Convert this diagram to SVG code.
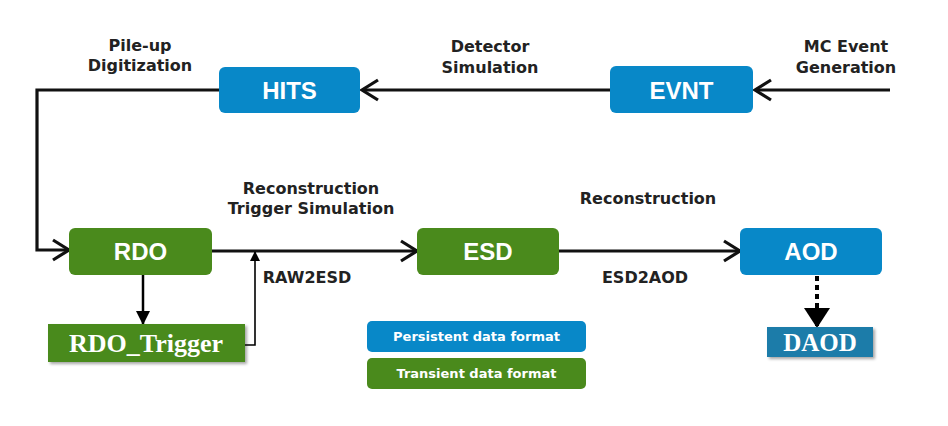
<svg xmlns="http://www.w3.org/2000/svg" width="948" height="426" viewBox="0 0 948 426">
<defs>
<marker id="chev" markerUnits="userSpaceOnUse" viewBox="0 0 22 24" refX="19" refY="12" markerWidth="22" markerHeight="24" orient="auto">
<path d="M3,2 L19,12 L3,22" fill="none" stroke="#111" stroke-width="3.2" stroke-linejoin="miter"/>
</marker>
<marker id="tri" markerUnits="userSpaceOnUse" viewBox="0 0 14 14" refX="13" refY="7" markerWidth="14" markerHeight="14" orient="auto">
<path d="M0,0 L14,7 L0,14 Z" fill="#000"/>
</marker>
<marker id="tris" markerUnits="userSpaceOnUse" viewBox="0 0 10 10" refX="9" refY="5" markerWidth="10" markerHeight="10" orient="auto">
<path d="M0,0 L10,5 L0,10 Z" fill="#000"/>
</marker>
<marker id="trib" markerUnits="userSpaceOnUse" viewBox="0 0 20 26" refX="19" refY="13" markerWidth="20" markerHeight="26" orient="auto">
<path d="M0,0 L20,13 L0,26 Z" fill="#000"/>
</marker>
<filter id="sh" x="-10%" y="-20%" width="130%" height="150%">
<feDropShadow dx="2" dy="2" stdDeviation="1.5" flood-color="#000" flood-opacity="0.35"/>
</filter>
</defs>
<style>
.blue{fill:#0888c8}
.green{fill:#4a8a1c}
.nl{font-family:"Liberation Sans",Arial,sans-serif;font-weight:bold;font-size:24px;fill:#fff;text-anchor:middle;dominant-baseline:central}
.lab{font-family:"DejaVu Sans","Liberation Sans",sans-serif;font-weight:bold;font-size:16px;fill:#222;text-anchor:middle}
.leg{font-family:"DejaVu Sans","Liberation Sans",sans-serif;font-weight:bold;font-size:13px;fill:#fff;text-anchor:middle;dominant-baseline:central}
.ser{font-family:"Liberation Serif","Times New Roman",serif;font-weight:bold;fill:#fff;text-anchor:middle;dominant-baseline:central}
.ln{fill:none;stroke:#111;stroke-width:3.2}
</style>
<rect width="948" height="426" fill="#fff"/>
<g id="connectors">
<path class="ln" d="M890,90 H755" marker-end="url(#chev)"/>
<path class="ln" d="M610,90 H362" marker-end="url(#chev)"/>
<path class="ln" d="M219,90 H37 V250 H69" marker-end="url(#chev)"/>
<path class="ln" d="M212,251 H417" marker-end="url(#chev)"/>
<path class="ln" d="M559,251 H740" marker-end="url(#chev)"/>
<path d="M143,275 V324" fill="none" stroke="#000" stroke-width="2.5" marker-end="url(#tri)"/>
<path d="M245,345 H255 V252" fill="none" stroke="#000" stroke-width="1.6" marker-end="url(#tris)"/>
<path d="M817,276 V327" fill="none" stroke="#000" stroke-width="4" stroke-dasharray="5,4" marker-end="url(#trib)"/>
</g>
<g id="label-pileup"><text class="lab" x="140" y="51">Pile-up</text><text class="lab" x="140" y="71">Digitization</text></g>
<g id="label-detsim"><text class="lab" x="490" y="52">Detector</text><text class="lab" x="490" y="73">Simulation</text></g>
<g id="label-mcgen"><text class="lab" x="846" y="52">MC Event</text><text class="lab" x="846" y="73">Generation</text></g>
<g id="label-recotrig"><text class="lab" x="311" y="194">Reconstruction</text><text class="lab" x="311" y="214">Trigger Simulation</text></g>
<g id="label-reco"><text class="lab" x="648" y="204">Reconstruction</text></g>
<g id="label-raw2esd"><text class="lab" x="307" y="283">RAW2ESD</text></g>
<g id="label-esd2aod"><text class="lab" x="645" y="283">ESD2AOD</text></g>
<g id="node-hits"><rect class="blue" x="219" y="67" width="141" height="46" rx="6"/><text class="nl" x="289.5" y="90.5">HITS</text></g>
<g id="node-evnt"><rect class="blue" x="610" y="66" width="143" height="47" rx="6"/><text class="nl" x="681.5" y="90">EVNT</text></g>
<g id="node-rdo"><rect class="green" x="69" y="228" width="143" height="47" rx="6"/><text class="nl" x="140.5" y="251.5">RDO</text></g>
<g id="node-esd"><rect class="green" x="417" y="228" width="142" height="47" rx="6"/><text class="nl" x="488" y="251.5">ESD</text></g>
<g id="node-aod"><rect class="blue" x="740" y="228" width="142" height="47" rx="6"/><text class="nl" x="811" y="251.5">AOD</text></g>
<g id="node-rdotrigger"><rect class="green" x="48" y="324" width="197" height="38" filter="url(#sh)"/><text class="ser" x="146" y="343" font-size="26">RDO_Trigger</text></g>
<g id="node-daod"><rect x="767" y="327" width="106" height="30" fill="#1a7ca9" filter="url(#sh)"/><text class="ser" x="820" y="342.5" font-size="25">DAOD</text></g>
<g id="legend-persistent"><rect class="blue" x="367" y="321" width="219" height="31" rx="5"/><text class="leg" x="476.5" y="336.5">Persistent data format</text></g>
<g id="legend-transient"><rect class="green" x="367" y="358" width="219" height="31" rx="5"/><text class="leg" x="476.5" y="373.5">Transient data format</text></g>
</svg>
